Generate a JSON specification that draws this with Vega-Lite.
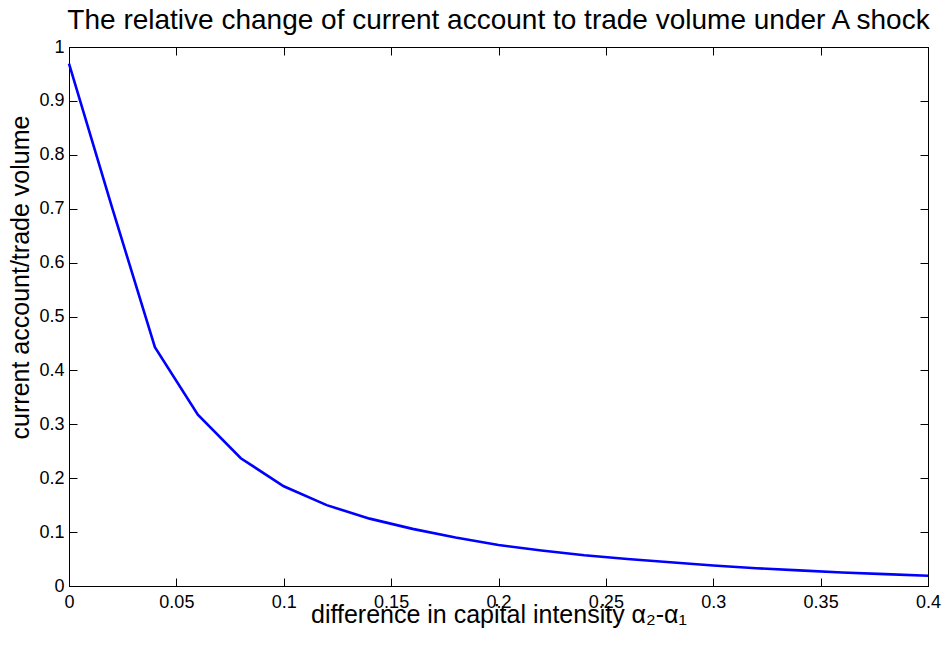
{
  "$schema": "https://vega.github.io/schema/vega-lite/v6.json",
  "width": 859,
  "height": 539,
  "autosize": {"type": "none"},
  "padding": {"left": 69, "top": 47, "right": 19, "bottom": 62},
  "background": "white",
  "title": {
    "text": "The relative change of current account to trade volume under A shock",
    "font": "Liberation Sans",
    "fontSize": 28,
    "fontWeight": "normal",
    "color": "black",
    "anchor": "middle",
    "frame": "group",
    "baseline": "alphabetic",
    "offset": -19
  },
  "data": {
    "values": [
      {"diff": 0.00, "ratio": 0.969},
      {"diff": 0.02, "ratio": 0.703},
      {"diff": 0.04, "ratio": 0.443},
      {"diff": 0.06, "ratio": 0.318},
      {"diff": 0.08, "ratio": 0.237},
      {"diff": 0.10, "ratio": 0.185},
      {"diff": 0.12, "ratio": 0.150},
      {"diff": 0.14, "ratio": 0.125},
      {"diff": 0.16, "ratio": 0.106},
      {"diff": 0.18, "ratio": 0.090},
      {"diff": 0.20, "ratio": 0.076},
      {"diff": 0.22, "ratio": 0.066},
      {"diff": 0.24, "ratio": 0.057},
      {"diff": 0.26, "ratio": 0.050},
      {"diff": 0.28, "ratio": 0.044},
      {"diff": 0.30, "ratio": 0.038},
      {"diff": 0.32, "ratio": 0.033},
      {"diff": 0.34, "ratio": 0.029},
      {"diff": 0.36, "ratio": 0.025},
      {"diff": 0.38, "ratio": 0.022},
      {"diff": 0.40, "ratio": 0.019}
    ]
  },
  "layer": [
    {
      "mark": {"type": "line", "color": "#0000ff", "strokeWidth": 2.6},
      "encoding": {
        "x": {
          "field": "diff",
          "type": "quantitative",
          "scale": {"domain": [0, 0.4], "nice": false, "zero": false},
          "axis": {
            "orient": "bottom",
            "values": [0, 0.05, 0.1, 0.15, 0.2, 0.25, 0.3, 0.35, 0.4],
            "format": "~g",
            "labelPadding": 15,
            "labelFlush": false,
            "labelOverlap": false,
            "title": "difference in capital intensity α₂-α₁",
            "titleFontSize": 25,
            "titlePadding": -9
          }
        },
        "y": {
          "field": "ratio",
          "type": "quantitative",
          "scale": {"domain": [0, 1], "nice": false},
          "axis": {
            "orient": "left",
            "values": [0, 0.1, 0.2, 0.3, 0.4, 0.5, 0.6, 0.7, 0.8, 0.9, 1],
            "format": "~g",
            "labelPadding": 13,
            "labelOverlap": false,
            "title": "current account/trade volume",
            "titleFontSize": 25,
            "titlePadding": 5,
            "titleY": 230
          }
        }
      }
    },
    {
      "mark": {"type": "line", "opacity": 0},
      "encoding": {
        "x": {
          "field": "diff",
          "type": "quantitative",
          "scale": {"domain": [0, 0.4], "nice": false, "zero": false},
          "axis": {
            "orient": "top",
            "values": [0, 0.05, 0.1, 0.15, 0.2, 0.25, 0.3, 0.35, 0.4],
            "labels": false,
            "title": null
          }
        },
        "y": {
          "field": "ratio",
          "type": "quantitative",
          "scale": {"domain": [0, 1], "nice": false},
          "axis": {
            "orient": "right",
            "values": [0, 0.1, 0.2, 0.3, 0.4, 0.5, 0.6, 0.7, 0.8, 0.9, 1],
            "labels": false,
            "title": null
          }
        }
      }
    }
  ],
  "resolve": {"axis": {"x": "independent", "y": "independent"}},
  "config": {
    "view": {"stroke": "black", "strokeWidth": 1},
    "axis": {
      "grid": false,
      "domain": true,
      "domainColor": "black",
      "domainWidth": 1,
      "ticks": true,
      "tickColor": "black",
      "tickWidth": 1,
      "tickSize": -8,
      "labelFont": "Liberation Sans",
      "labelFontSize": 18,
      "labelColor": "black",
      "titleFont": "Liberation Sans",
      "titleFontWeight": "normal",
      "titleColor": "black"
    }
  }
}
